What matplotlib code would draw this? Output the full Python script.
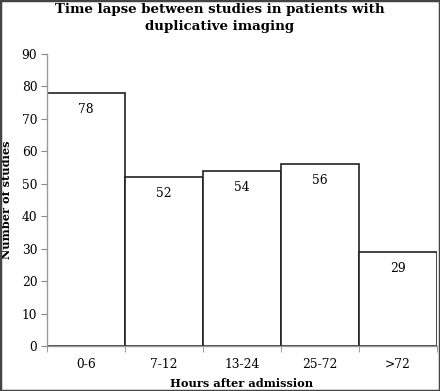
import numpy as np
import matplotlib.pyplot as plt

categories = ["0-6", "7-12", "13-24", "25-72", ">72"]
studies = [78, 52, 54, 56, 29]

plt.rcParams['font.family'] = ['DejaVu Serif']

fig = plt.figure(figsize=(4.4, 3.91), dpi=100)
ax = fig.add_axes([47 / 440, 45 / 391, 390 / 440, 292 / 391])

x = np.arange(len(categories))
ax.bar(x, studies, width=1.0, color='white', edgecolor='#222222', linewidth=1.2)

# value labels sit just under the top of each bar
for xi, v in zip(x, studies):
    ax.text(xi, v - 5, str(v), ha='center', va='center', fontsize=8.8)

ax.set_xlim(-0.5, len(categories) - 0.5)
ax.set_ylim(0, 90)
ax.set_yticks(range(0, 91, 10))
ax.set_xticks(x)
ax.set_xticklabels(categories)
ax.set_xticks(np.arange(-0.5, len(categories)), minor=True)
ax.tick_params(axis='x', which='major', length=0, labelsize=8.8, pad=9)
ax.tick_params(axis='x', which='minor', length=4, color='#888888')
ax.tick_params(axis='y', length=4, color='#888888', labelsize=8.8, pad=3)

for s in ['top', 'right']:
    ax.spines[s].set_visible(False)
for s in ['left', 'bottom']:
    ax.spines[s].set_color('#999999')
    ax.spines[s].set_linewidth(1.0)

ax.set_xlabel("Hours after admission", fontweight='bold', fontsize=8.2, labelpad=5)
ax.set_ylabel("Number of studies", fontweight='bold', fontsize=8.2, labelpad=7)
fig.suptitle("Time lapse between studies in patients with\nduplicative imaging",
             fontweight='bold', fontsize=9.6, y=0.993, linespacing=1.45)

border = plt.Rectangle((0, 0), 1, 1, transform=fig.transFigure, fill=False,
                       edgecolor='#444444', linewidth=2.5)
fig.patches.append(border)

fig.savefig("out.png", dpi=100)
